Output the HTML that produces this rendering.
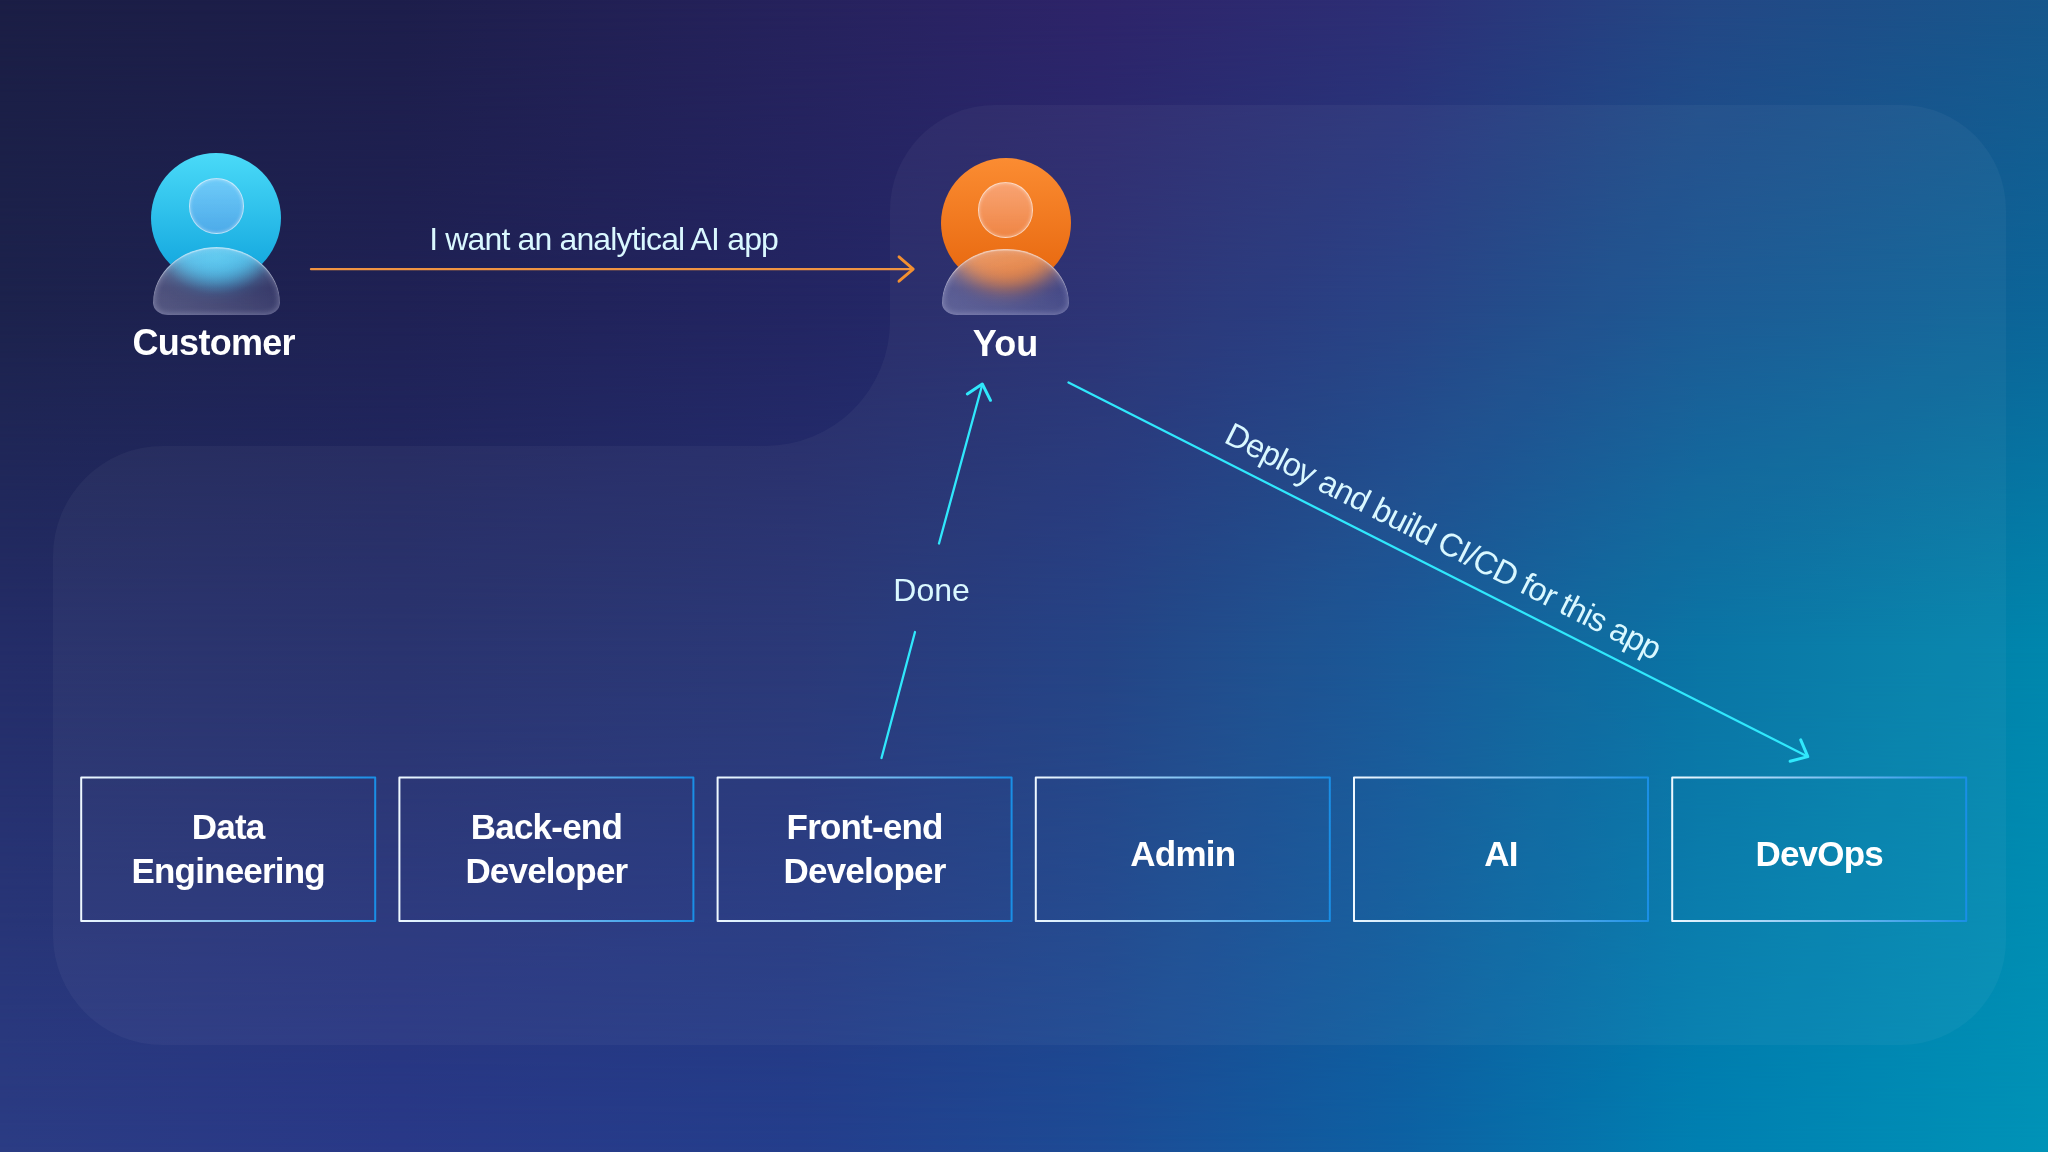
<!DOCTYPE html>
<html><head><meta charset="utf-8">
<style>
*{margin:0;padding:0;box-sizing:border-box}
html,body{width:2048px;height:1152px;overflow:hidden;background:#1e2050}
body{position:relative;font-family:"Liberation Sans",sans-serif}
.l{position:absolute;left:0;top:0;width:2048px;height:1152px}
#r0{background:linear-gradient(to right,#1b1e45 0.00%,#1d1e4b 19.53%,#26225d 39.06%,#2e246a 53.71%,#2d2f76 68.36%,#244785 83.01%,#17578c 100.00%)}
#r1{background:linear-gradient(to right,#1c224c 0.00%,#1f2154 19.53%,#232562 39.06%,#262c71 53.71%,#213c81 68.36%,#155490 83.01%,#0c6598 100.00%);-webkit-mask-image:linear-gradient(to bottom,transparent 0px,#000 300px);mask-image:linear-gradient(to bottom,transparent 0px,#000 300px)}
#r2{background:linear-gradient(to right,#242d68 0.00%,#222c6a 19.53%,#233173 39.06%,#1d3d81 53.71%,#115494 68.36%,#0170a2 83.01%,#0087ad 100.00%);-webkit-mask-image:linear-gradient(to bottom,transparent 300px,#000 650px);mask-image:linear-gradient(to bottom,transparent 300px,#000 650px)}
#r3{background:linear-gradient(to right,#2b3c84 0.00%,#293988 19.53%,#243e8c 39.06%,#1d4b95 53.71%,#0d61a3 68.36%,#0080b1 83.01%,#0093b7 100.00%);-webkit-mask-image:linear-gradient(to bottom,transparent 650px,#000 1152px);mask-image:linear-gradient(to bottom,transparent 650px,#000 1152px)}
.av{position:absolute}
.av .c{position:absolute;left:0;top:0;width:130px;height:130px;border-radius:50%}
.av .h{position:absolute;width:55.5px;height:55.5px;border-radius:50%;border:1.6px solid rgba(255,255,255,0.6);box-shadow:inset 0 0 3px 1px rgba(255,255,255,0.3);-webkit-backdrop-filter:blur(3px);backdrop-filter:blur(3px)}
.av .b{position:absolute;width:127px;height:68px;border-radius:63.5px 63.5px 15px 15px / 56px 56px 12px 12px;-webkit-backdrop-filter:blur(10px);backdrop-filter:blur(10px);
 background:linear-gradient(to bottom,rgba(255,255,255,0.22),rgba(255,255,255,0.06) 60%,rgba(255,255,255,0.1)),linear-gradient(to right,rgba(210,210,255,0.22),rgba(160,160,230,0.1));
 box-shadow:inset 0 1.5px 1px rgba(255,255,255,0.45),inset 0 0 6px 1px rgba(230,230,255,0.3)}
#cust .c{background:linear-gradient(to bottom,#4adaf8,#0ea2dc)}
#cust .b{background-image:radial-gradient(ellipse 42% 58% at 50% 12%,rgba(110,215,245,0.45),rgba(110,215,245,0) 100%),linear-gradient(to bottom,rgba(255,255,255,0.22),rgba(255,255,255,0.06) 60%,rgba(255,255,255,0.1)),linear-gradient(to right,rgba(210,210,255,0.22),rgba(160,160,230,0.1))}
#cust .h{background:linear-gradient(to bottom,rgba(160,200,255,0.5),rgba(110,160,235,0.55))}
#you .c{background:linear-gradient(to bottom,#fb8c32,#e6650c)}
#you .h{background:linear-gradient(to bottom,rgba(250,190,175,0.55),rgba(240,150,110,0.5))}
svg text{font-family:"Liberation Sans",sans-serif}
</style></head><body>
<div class="l" id="r0"></div>
<div class="l" id="r1"></div>
<div class="l" id="r2"></div>
<div class="l" id="r3"></div>
<svg class="l" width="2048" height="1152" viewBox="0 0 2048 1152">
 <path d="M995 105 H1901 A105 105 0 0 1 2006 210 V940 A105 105 0 0 1 1901 1045 H163 A110 110 0 0 1 53 935 V556 A110 110 0 0 1 163 446 H765 A125 125 0 0 0 890 321 V210 A105 105 0 0 1 995 105 Z" fill="#ffffff" fill-opacity="0.0375"/>
</svg>

<div class="av" id="cust" style="left:151.4px;top:153.4px">
 <div class="c"></div><div class="h" style="left:37.2px;top:24.7px"></div><div class="b" style="left:1.5px;top:93.7px"></div></div>
<div class="av" id="you" style="left:940.5px;top:158px">
 <div class="c"></div><div class="h" style="left:37.3px;top:24px"></div><div class="b" style="left:1.5px;top:91px;height:66px"></div></div>

<svg class="l" width="2048" height="1152" viewBox="0 0 2048 1152" fill="none" stroke-linecap="round" stroke-linejoin="round">
 <defs>
<linearGradient id="bg0" gradientUnits="userSpaceOnUse" x1="81.2" y1="0" x2="375.2" y2="0"><stop offset="0" stop-color="#eef8ff"/><stop offset="1" stop-color="#1a8fe6"/></linearGradient>
<linearGradient id="bg1" gradientUnits="userSpaceOnUse" x1="399.4" y1="0" x2="693.4" y2="0"><stop offset="0" stop-color="#eef8ff"/><stop offset="1" stop-color="#1a8fe6"/></linearGradient>
<linearGradient id="bg2" gradientUnits="userSpaceOnUse" x1="717.6" y1="0" x2="1011.6" y2="0"><stop offset="0" stop-color="#eef8ff"/><stop offset="1" stop-color="#1a8fe6"/></linearGradient>
<linearGradient id="bg3" gradientUnits="userSpaceOnUse" x1="1035.8" y1="0" x2="1329.8" y2="0"><stop offset="0" stop-color="#eef8ff"/><stop offset="1" stop-color="#1a8fe6"/></linearGradient>
<linearGradient id="bg4" gradientUnits="userSpaceOnUse" x1="1354.0" y1="0" x2="1648.0" y2="0"><stop offset="0" stop-color="#eef8ff"/><stop offset="1" stop-color="#1a8fe6"/></linearGradient>
<linearGradient id="bg5" gradientUnits="userSpaceOnUse" x1="1672.2" y1="0" x2="1966.2" y2="0"><stop offset="0" stop-color="#eef8ff"/><stop offset="1" stop-color="#1a8fe6"/></linearGradient>
 </defs>
 <g stroke-width="2">
<rect x="81.2" y="777.6" width="294" height="143.3" stroke="url(#bg0)"/>
<rect x="399.4" y="777.6" width="294" height="143.3" stroke="url(#bg1)"/>
<rect x="717.6" y="777.6" width="294" height="143.3" stroke="url(#bg2)"/>
<rect x="1035.8" y="777.6" width="294" height="143.3" stroke="url(#bg3)"/>
<rect x="1354.0" y="777.6" width="294" height="143.3" stroke="url(#bg4)"/>
<rect x="1672.2" y="777.6" width="294" height="143.3" stroke="url(#bg5)"/>
 </g>
 <g stroke="#f09442" stroke-width="2.4">
  <path d="M311 269.1 H912.5"/>
 </g>
 <g stroke="#f29030" stroke-width="2.9">
  <path d="M899 256.9 L913.2 269.1 L899 281.2"/>
 </g>
 <g stroke="#30e8fc" stroke-width="2.3">
  <path d="M881.5 758 L915 632"/>
  <path d="M939 543.5 L982.3 384.5"/>
  <path d="M1068.5 382.5 L1807.5 756.5"/>
 </g>
 <g stroke="#30e8fc" stroke-width="3">
  <path d="M967.3 394 L982.3 384 L990.5 400.3"/>
  <path d="M1800.7 739.8 L1807.8 756.6 L1790.1 761.3"/>
 </g>
 <g fill="#daf8ff" stroke="none" font-size="32">
  <text x="429.2" y="249.7" letter-spacing="-0.85">I want an analytical AI app</text>
  <text x="893.3" y="600.9">Done</text>
  <text x="1222.7" y="441.7" font-size="32.5" letter-spacing="-0.75" transform="rotate(26.9 1222.7 441.7)">Deploy and build CI/CD for this app</text>
 </g>
 <g fill="#ffffff" stroke="none" font-weight="bold" font-size="36" text-anchor="middle">
  <text x="213.7" y="355.4" letter-spacing="-0.7">Customer</text>
  <text x="1005.5" y="355.6">You</text>
 </g>
 <g fill="#ffffff" stroke="none" font-weight="bold" font-size="35" text-anchor="middle" letter-spacing="-0.8">
<text x="228.2" y="839.4">Data</text><text x="228.2" y="883.4">Engineering</text>
<text x="546.4" y="839.4">Back-end</text><text x="546.4" y="883.4">Developer</text>
<text x="864.6" y="839.4">Front-end</text><text x="864.6" y="883.4">Developer</text>
<text x="1182.8" y="865.8">Admin</text>
<text x="1501.0" y="865.8">AI</text>
<text x="1819.2" y="865.8">DevOps</text>
 </g>
</svg>
</body></html>
